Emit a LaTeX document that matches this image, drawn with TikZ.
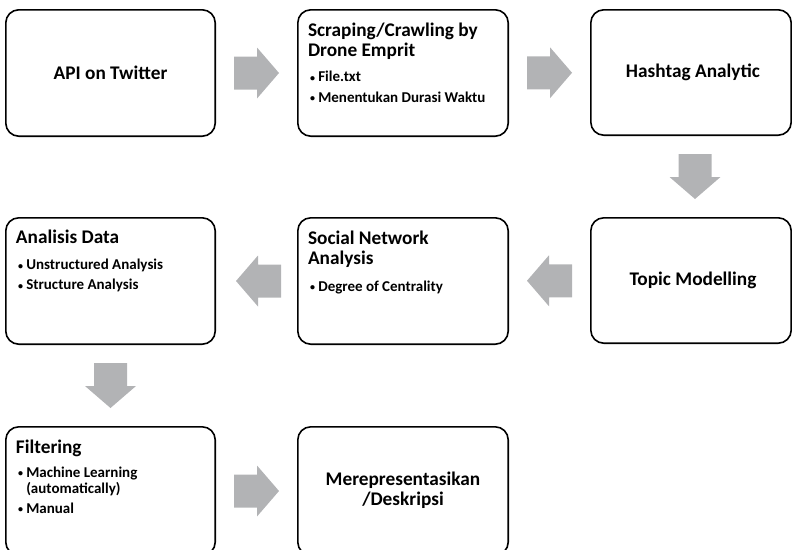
\documentclass[tikz,border=0pt]{standalone}
\usepackage{fontspec}
\setmainfont{Carlito}
\usetikzlibrary{calc}
\definecolor{arrowgray}{RGB}{178,179,181}
\newcommand{\bul}{\makebox[8.3pt][l]{\raisebox{0.6pt}{\fontsize{10}{10}\selectfont •}}}
\newcommand{\ind}{\hspace*{8.3pt}}
\tikzset{
  box/.style={draw=black, line width=1.6pt, rounded corners=13pt, fill=white},
  ttl/.style={font=\bfseries\fontsize{19.3}{20}\selectfont, inner sep=0pt},
  itm/.style={font=\bfseries\fontsize{15}{16.5}\selectfont, inner sep=0pt, align=left, anchor=base west},
  blk/.pic={\fill[arrowgray] (-22.5,-16.5) -- (0.5,-16.5) -- (0.5,-25.5) -- (22.5,0) -- (0.5,25.5) -- (0.5,16.5) -- (-22.5,16.5) -- cycle;}
}
\begin{document}
\begin{tikzpicture}[x=1pt,y=-1pt]
\useasboundingbox (0,0) rectangle (792,549);
\clip (0,0) rectangle (792,549);
% boxes
\node[inner sep=0pt, minimum width=209pt, minimum height=126pt] (n1) at (110.5,73) {};
\node[inner sep=0pt, minimum width=210pt, minimum height=126pt] (n2) at (403,73) {};
\node[inner sep=0pt, minimum width=200pt, minimum height=125pt] (n3) at (691,72.5) {};
\node[inner sep=0pt, minimum width=200pt, minimum height=125pt] (n6) at (691,280.5) {};
\node[inner sep=0pt, minimum width=210pt, minimum height=126pt] (n5) at (403,281) {};
\node[inner sep=0pt, minimum width=209pt, minimum height=126pt] (n4) at (110.5,281) {};
\node[inner sep=0pt, minimum width=209pt, minimum height=128pt] (n7) at (110.5,491) {};
\node[inner sep=0pt, minimum width=210pt, minimum height=128pt] (n8) at (403,491) {};
\foreach \n in {n1,n2,n3,n4,n5,n6,n7,n8}{\draw[box] (\n.north west) rectangle (\n.south east);}
% texts (base anchor = baseline of the last line)
\node[ttl] (t1) at (n1.center) {API on Twitter};
\node[ttl, anchor=base west, align=left] (t2) at ($(n2.north west)+(10,46.7)$) {Scraping/Crawling by\\Drone Emprit};
\node[itm] (i2) at ($(n2.north west)+(12,92.3)$) {\bul File.txt\\[4pt]\bul Menentukan Durasi Waktu};
\node[ttl] (t3) at ($(n3.center)+(2,0)$) {Hashtag Analytic};
\node[ttl] (t6) at ($(n6.center)+(2,0)$) {Topic Modelling};
\node[ttl, anchor=base west, align=left] (t5) at ($(n5.north west)+(10,47)$) {Social Network\\Analysis};
\node[itm] (i5) at ($(n5.north west)+(12,73.7)$) {\bul Degree of Centrality};
\node[ttl, anchor=base west] (t4) at ($(n4.north west)+(10,25.3)$) {Analisis Data};
\node[itm] (i4) at ($(n4.north west)+(12,72)$) {\bul Unstructured Analysis\\[3.5pt]\bul Structure Analysis};
\node[ttl, anchor=base west] (t7) at ($(n7.north west)+(10,26.3)$) {Filtering};
\node[itm] (i7) at ($(n7.north west)+(12,86.3)$) {\bul Machine Learning\\\ind (automatically)\\[3pt]\bul Manual};
\node[ttl, align=center] (t8) at ($(n8.north)+(0,63)$) {Merepresentasikan\\/Deskripsi};
% arrows
\pic at ($(n1.east)!0.5!(n2.west)$) {blk};
\pic at ($(n2.east)!0.5!(n3.west)$) {blk};
\pic[rotate=-90] at ($(n3.south)!0.5!(n6.north)+(4,0)$) {blk};
\pic[rotate=180] at ($(n6.west)!0.5!(n5.east)$) {blk};
\pic[rotate=180] at ($(n5.west)!0.5!(n4.east)+(2,0)$) {blk};
\pic[rotate=-90] at ($(n4.south)!0.5!(n7.north)$) {blk};
\pic at ($(n7.east)!0.5!(n8.west)$) {blk};
\end{tikzpicture}
\end{document}
